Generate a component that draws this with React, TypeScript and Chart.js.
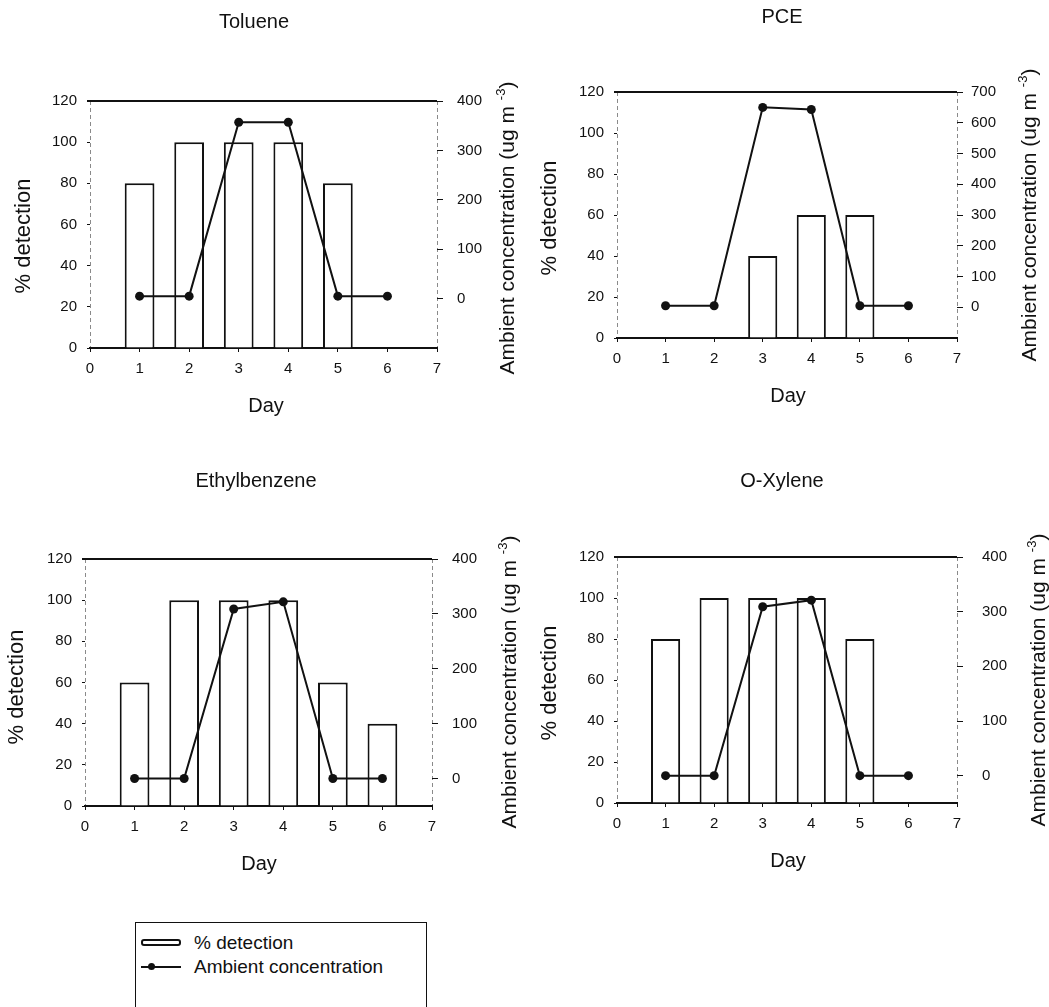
import React, { useEffect, useRef } from "react";
import { Chart, registerables } from "chart.js";

Chart.register(...registerables);

const FONT = '"Liberation Sans", Arial, Helvetica, sans-serif';
const INK = "#111";
const AXIS_GRAY = "#8a8a8a";
Chart.defaults.font.family = FONT;
Chart.defaults.color = INK;

// ---------------- data ----------------
const days = [1, 2, 3, 4, 5, 6];
const dayTicks = [0, 1, 2, 3, 4, 5, 6, 7];
const detectionTicks = [0, 20, 40, 60, 80, 100, 120];
const seriesLabels = ["% detection", "Ambient concentration"];

const tolueneDetection = [80, 100, 100, 100, 80, 0];
const tolueneConcentration = [5, 5, 357, 357, 5, 5];
const tolueneConcTicks = [0, 100, 200, 300, 400];

const pceDetection = [0, 0, 40, 60, 60, 0];
const pceConcentration = [5, 5, 650, 643, 5, 5];
const pceConcTicks = [0, 100, 200, 300, 400, 500, 600, 700];

const ethylbenzeneDetection = [60, 100, 100, 100, 60, 40];
const ethylbenzeneConcentration = [0, 0, 309, 322, 0, 0];
const ethylbenzeneConcTicks = [0, 100, 200, 300, 400];

const oXyleneDetection = [80, 100, 100, 100, 80, 0];
const oXyleneConcentration = [0, 0, 309, 321, 0, 0];
const oXyleneConcTicks = [0, 100, 200, 300, 400];

// ---------------- layout ----------------
type Box = { x: number; y: number; w: number; h: number };
type Area = { l: number; t: number; r: number; b: number };
type PanelCfg = {
  title: string;
  detection: number[];
  conc: number[];
  concTicks: number[];
  concMin: number;
  canvas: Box;
  area: Area;
  titleAt: [number, number];
  leftTitleAt: [number, number];
  rightTitleAt: [number, number];
  dayAt: [number, number];
  rightPad: number;
};

const panels: PanelCfg[] = [
  {
    title: "Toluene",
    detection: tolueneDetection,
    conc: tolueneConcentration,
    concTicks: tolueneConcTicks,
    concMin: -100,
    canvas: { x: 0, y: 0, w: 530, h: 422 },
    area: { l: 90, t: 101, r: 437, b: 348 },
    titleAt: [254, 22],
    leftTitleAt: [24, 236],
    rightTitleAt: [508, 228],
    dayAt: [266, 406],
    rightPad: 14,
  },
  {
    title: "PCE",
    detection: pceDetection,
    conc: pceConcentration,
    concTicks: pceConcTicks,
    concMin: -100,
    canvas: { x: 527, y: 0, w: 522, h: 412 },
    area: { l: 617, t: 92, r: 957, b: 338 },
    titleAt: [782, 17],
    leftTitleAt: [550, 218],
    rightTitleAt: [1030, 215],
    dayAt: [788, 396],
    rightPad: 8,
  },
  {
    title: "Ethylbenzene",
    detection: ethylbenzeneDetection,
    conc: ethylbenzeneConcentration,
    concTicks: ethylbenzeneConcTicks,
    concMin: -50,
    canvas: { x: 0, y: 460, w: 530, h: 420 },
    area: { l: 85, t: 559, r: 432, b: 806 },
    titleAt: [256, 481],
    leftTitleAt: [17, 687],
    rightTitleAt: [510, 682],
    dayAt: [259, 864],
    rightPad: 14,
  },
  {
    title: "O-Xylene",
    detection: oXyleneDetection,
    conc: oXyleneConcentration,
    concTicks: oXyleneConcTicks,
    concMin: -50,
    canvas: { x: 527, y: 460, w: 522, h: 417 },
    area: { l: 617, t: 557, r: 957, b: 803 },
    titleAt: [782, 481],
    leftTitleAt: [550, 683],
    rightTitleAt: [1039, 680],
    dayAt: [788, 861],
    rightPad: 19,
  },
];

type Part = { text: string; size: number; dy?: number };
type TextItem = { x: number; y: number; rotation?: number; parts: Part[] };

function makeTextPlugin(items: TextItem[]) {
  return {
    id: "panelText",
    afterDraw(chart: any) {
      const ctx = chart.ctx as CanvasRenderingContext2D;
      items.forEach((it) => {
        ctx.save();
        ctx.translate(it.x, it.y);
        ctx.rotate(it.rotation || 0);
        ctx.fillStyle = INK;
        ctx.textBaseline = "middle";
        ctx.textAlign = "left";
        let total = 0;
        const widths = it.parts.map((p) => {
          ctx.font = `${p.size}px ${FONT}`;
          const w = ctx.measureText(p.text).width;
          total += w;
          return w;
        });
        let x = -total / 2;
        it.parts.forEach((p, i) => {
          ctx.font = `${p.size}px ${FONT}`;
          ctx.fillText(p.text, x, p.dy || 0);
          x += widths[i];
        });
        ctx.restore();
      });
    },
  };
}

function Panel({ cfg }: { cfg: PanelCfg }) {
  const ref = useRef<HTMLCanvasElement | null>(null);
  useEffect(() => {
    const { canvas, area } = cfg;
    const cx = (p: [number, number]) => p[0] - canvas.x;
    const cy = (p: [number, number]) => p[1] - canvas.y;
    const items: TextItem[] = [
      { x: cx(cfg.titleAt), y: cy(cfg.titleAt), parts: [{ text: cfg.title, size: 20 }] },
      { x: cx(cfg.dayAt), y: cy(cfg.dayAt), parts: [{ text: "Day", size: 20 }] },
      {
        x: cx(cfg.leftTitleAt),
        y: cy(cfg.leftTitleAt),
        rotation: -Math.PI / 2,
        parts: [{ text: "% detection", size: 22 }],
      },
      {
        x: cx(cfg.rightTitleAt),
        y: cy(cfg.rightTitleAt),
        rotation: -Math.PI / 2,
        parts: [
          { text: "Ambient concentration (ug m ", size: 21 },
          { text: "-3", size: 13, dy: -7 },
          { text: ")", size: 21 },
        ],
      },
    ];
    const concMax = cfg.concTicks[cfg.concTicks.length - 1];
    const xMin = dayTicks[0];
    const xMax = dayTicks[dayTicks.length - 1];
    const chart = new Chart(ref.current as HTMLCanvasElement, {
      type: "bar",
      data: {
        datasets: [
          {
            type: "line",
            label: seriesLabels[1],
            data: days.map((d, i) => ({ x: d, y: cfg.conc[i] })),
            xAxisID: "x",
            yAxisID: "y2",
            borderColor: INK,
            backgroundColor: INK,
            borderWidth: 2,
            pointRadius: 4.5,
            pointBackgroundColor: INK,
            pointBorderColor: INK,
            pointBorderWidth: 0,
            tension: 0,
            order: 1,
          } as any,
          {
            type: "bar",
            label: seriesLabels[0],
            data: days.map((d, i) => ({ x: d, y: cfg.detection[i] })),
            xAxisID: "x",
            yAxisID: "y",
            backgroundColor: "#ffffff",
            borderColor: INK,
            borderWidth: 2,
            categoryPercentage: 1,
            barPercentage: 0.6,
            order: 2,
          } as any,
        ],
      },
      options: {
        responsive: false,
        animation: false,
        events: [],
        layout: { padding: { top: area.t - canvas.y, left: 0, right: 0, bottom: 0 } },
        plugins: {
          legend: { display: false },
          tooltip: { enabled: false },
          title: { display: false },
        },
        scales: {
          x: {
            type: "linear",
            position: "bottom",
            min: xMin,
            max: xMax,
            offset: false,
            afterBuildTicks: (s: any) => {
              s.ticks = dayTicks.map((v) => ({ value: v }));
            },
            afterFit: (s: any) => {
              s.height = canvas.y + canvas.h - area.b;
            },
            grid: {
              offset: false,
              drawOnChartArea: true,
              tickLength: 4,
              color: (c: any) =>
                c.tick && (c.tick.value === xMin || c.tick.value === xMax) ? AXIS_GRAY : "rgba(0,0,0,0)",
              lineWidth: 1,
              tickColor: INK,
            },
            border: { color: INK, width: 2, dash: [4, 3] },
            ticks: { font: { size: 15 }, color: INK, padding: 8, maxRotation: 0, autoSkip: false },
          } as any,
          y: {
            type: "linear",
            position: "left",
            min: 0,
            max: 120,
            afterBuildTicks: (s: any) => {
              s.ticks = detectionTicks.map((v) => ({ value: v }));
            },
            afterFit: (s: any) => {
              s.width = area.l - canvas.x;
            },
            grid: {
              color: (c: any) => (c.tick && c.tick.value === 120 ? INK : "rgba(0,0,0,0)"),
              lineWidth: (c: any) => (c.tick && c.tick.value === 120 ? 2 : 1),
              tickLength: 3,
              tickColor: INK,
            },
            border: { display: false },
            ticks: { font: { size: 15 }, color: INK, padding: 10 },
          } as any,
          y2: {
            type: "linear",
            position: "right",
            min: cfg.concMin,
            max: concMax,
            afterBuildTicks: (s: any) => {
              s.ticks = cfg.concTicks.map((v) => ({ value: v }));
            },
            afterFit: (s: any) => {
              s.width = canvas.x + canvas.w - area.r;
            },
            grid: { drawOnChartArea: false, tickLength: 6, tickColor: INK },
            border: { display: false },
            ticks: { font: { size: 15 }, color: INK, padding: cfg.rightPad },
          } as any,
        },
      },
      plugins: [makeTextPlugin(items)],
    });
    return () => chart.destroy();
  }, [cfg]);

  const { canvas } = cfg;
  return (
    <canvas
      ref={ref}
      width={canvas.w}
      height={canvas.h}
      style={{
        position: "absolute",
        left: canvas.x,
        top: canvas.y,
        width: canvas.w,
        height: canvas.h,
      }}
    />
  );
}

function Legend() {
  const text: React.CSSProperties = {
    position: "absolute",
    left: 58,
    fontSize: 19,
    lineHeight: "22px",
    color: INK,
    whiteSpace: "nowrap",
  };
  return (
    <div
      style={{
        position: "absolute",
        left: 135,
        top: 922,
        width: 292,
        height: 120,
        border: `1px solid ${INK}`,
        boxSizing: "border-box",
        fontFamily: FONT,
      }}
    >
      <div
        style={{
          position: "absolute",
          left: 5,
          top: 16,
          width: 40,
          height: 7,
          border: `2px solid ${INK}`,
          borderRadius: 3,
          boxSizing: "border-box",
          background: "#fff",
        }}
      />
      <div style={{ ...text, top: 9 }}>{seriesLabels[0]}</div>
      <div
        style={{
          position: "absolute",
          left: 5,
          top: 43,
          width: 40,
          height: 2,
          background: INK,
        }}
      />
      <div
        style={{
          position: "absolute",
          left: 12,
          top: 40,
          width: 7,
          height: 7,
          borderRadius: 4,
          background: INK,
        }}
      />
      <div style={{ ...text, top: 33 }}>{seriesLabels[1]}</div>
    </div>
  );
}

export default function App() {
  return (
    <div
      style={{
        position: "absolute",
        left: 0,
        top: 0,
        width: 1049,
        height: 1007,
        overflow: "hidden",
        background: "#fff",
        fontFamily: FONT,
      }}
    >
      {panels.map((p) => (
        <Panel key={p.title} cfg={p} />
      ))}
      <Legend />
    </div>
  );
}
